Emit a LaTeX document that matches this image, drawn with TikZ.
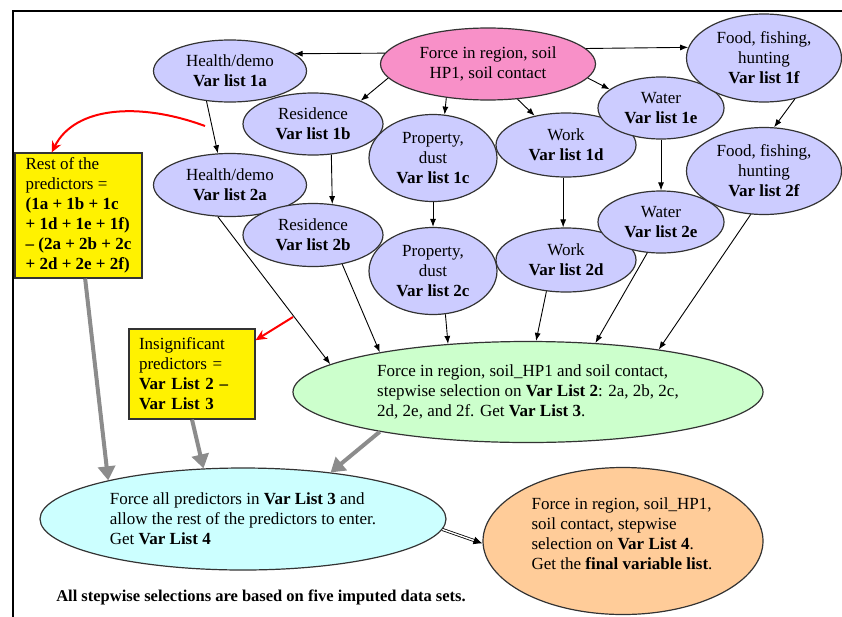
\documentclass[tikz,border=0pt]{standalone}
\usepackage{fontspec}
\setmainfont{Liberation Serif}
\usepackage{xcolor}
\usepackage{tikz}
\usetikzlibrary{arrows.meta, positioning, shapes.geometric, calc}
\definecolor{varblue}{HTML}{CCCCFF}
\definecolor{forcepink}{HTML}{F890C8}
\definecolor{selgreen}{HTML}{CCFFCC}
\definecolor{selcyan}{HTML}{CCFFFF}
\definecolor{finalorange}{HTML}{FFCC99}
\definecolor{flowgray}{HTML}{8C8C8C}

\begin{document}
\begin{tikzpicture}[
          x=1pt, y=-1pt,
          every node/.style={font=\fontsize{17}{20}\selectfont},
          ell/.style={ellipse, draw=black!80, line width=1.2pt, inner sep=0pt, align=center},
          varnode/.style={ell, fill=varblue, minimum width=#1},
          varnode/.default=140pt,
          notebox/.style={rectangle, draw=black!80, line width=1.2pt, fill=yellow, align=left, inner xsep=9pt},
          blk/.style={-{Latex[length=8pt,width=6pt]}, line width=0.9pt},
          fat/.style={-{Triangle[length=14pt,width=17pt]}, line width=4pt, flowgray},
          redarr/.style={-{Stealth[length=11pt,width=10pt]}, line width=2pt, red}
        ]
          \useasboundingbox (0,0) rectangle (842,616);
          \clip (0,0) rectangle (842,616);
          \draw[line width=2pt] (13,11) rectangle (900,700);

          \node[ell, fill=forcepink, minimum width=215pt, minimum height=72pt] (force) at (488,64)
            {Force in region, soil\\HP1, soil contact};

          \node[varnode=153pt, minimum height=62pt] (health1) at (230,71) {Health/demo\\\textbf{Var list 1a}};
          \node[varnode, minimum height=62pt] (res1) at (313,124) {Residence\\\textbf{Var list 1b}};
          \node[varnode=128pt, minimum height=87pt] (prop1) at (433,158) {Property,\\dust\\\textbf{Var list 1c}};
          \node[varnode, minimum height=64pt] (work1) at (566,145) {Work\\\textbf{Var list 1d}};
          \node[varnode=126pt, minimum height=62pt] (water1) at (661,108) {Water\\\textbf{Var list 1e}};
          \node[varnode=155pt, minimum height=88pt] (food1) at (764,58) {Food, fishing,\\hunting\\\textbf{Var list 1f}};

          \node[varnode=153pt, minimum height=63pt] (health2) at (230,185) {Health/demo\\\textbf{Var list 2a}};
          \node[varnode, minimum height=63pt] (res2) at (313,235) {Residence\\\textbf{Var list 2b}};
          \node[varnode=128pt, minimum height=87pt] (prop2) at (433,271) {Property,\\dust\\\textbf{Var list 2c}};
          \node[varnode, minimum height=64pt] (work2) at (566,260) {Work\\\textbf{Var list 2d}};
          \node[varnode=126pt, minimum height=62pt] (water2) at (661,222) {Water\\\textbf{Var list 2e}};
          \node[varnode=155pt, minimum height=87pt] (food2) at (764,171) {Food, fishing,\\hunting\\\textbf{Var list 2f}};

          \node[notebox, minimum width=127pt, minimum height=125pt, inner xsep=4pt] (rest) at (78.5,215.5)
            {Rest of the\\predictors =\\\textbf{(1a + 1b + 1c}\\\textbf{+ 1d + 1e + 1f)}\\\textbf{-- (2a + 2b + 2c}\\\textbf{+ 2d + 2e + 2f)}};
          \node[notebox, minimum width=126pt, minimum height=90pt, text width=106pt, inner xsep=10pt] (insig) at (192,374)
            {Insignificant\\predictors =\\\textbf{Var List 2 --}\\\textbf{Var List 3}};

          \node[ell, fill=selgreen, minimum width=470pt, minimum height=101pt, align=left] (sel3) at (528,392)
            {Force in region, soil\_HP1 and soil contact,\\
             stepwise selection on \textbf{Var List 2}: 2a, 2b, 2c,\\
             2d, 2e, and 2f. Get \textbf{Var List 3}.};
          \node[ell, fill=selcyan, minimum width=406pt, minimum height=102pt, align=left] (sel4) at (243,519)
            {Force all predictors in \textbf{Var List 3} and\\
             allow the rest of the predictors to enter.\\
             Get \textbf{Var List 4}};
          \node[ell, fill=finalorange, minimum width=280pt, minimum height=147pt] (final) at (623,541) {};
          \node[align=left] (finaltext) at (622,534)
            {Force in region, soil\_HP1,\\
             soil contact, stepwise\\
             selection on \textbf{Var List 4}.\\
             Get the \textbf{final variable list}.};

          \node[font=\fontsize{16.5}{19}\selectfont\bfseries] (note) at (261,597)
            {All stepwise selections are based on five imputed data sets.};

          \draw[blk] (force.174) -- (health1.15);
          \draw[blk] (force.188) -- (res1.26);
          \draw[blk] (force.219) -- (prop1.75);
          \draw[blk] (force.310) -- (work1.137);
          \draw[blk] (force.352) -- (water1.160);
          \draw[blk] (force.9) -- (food1.172);

          \draw[blk] (health1.232) -- (health2.111);
          \draw[blk] (res1.301) -- (res2.58);
          \draw[blk] (prop1.south) -- (prop2.north);
          \draw[blk] (work1.265) -- (work2.95);
          \draw[blk] (water1.south) -- (water2.north);
          \draw[blk] (food1.307) -- (food2.77);

          \draw[blk] (health2.249) -- (sel3.172);
          \draw[blk] (res2.315) -- (sel3.165);
          \draw[blk] (prop2.286) -- (sel3.149);
          \draw[blk] (work2.238) -- (sel3.81);
          \draw[blk] (water2.246) -- (sel3.36);
          \draw[blk] (food2.253) -- (sel3.18);

          \coordinate (redstart) at (205,126);
          \coordinate (redstart2) at (293,317);
          \draw[redarr] (redstart) .. controls (140,102) and (75,106) .. (rest.113);
          \draw[redarr] (redstart2) -- (insig.28);

          \draw[fat] (rest.276) -- (sel4.164);
          \draw[fat] (insig.south) -- (sel4.128);
          \draw[fat] (sel3.195) -- (sel4.28);

          \draw[double, double distance=1.4pt, line width=0.8pt, -{Latex[length=9pt,width=8pt]}] (sel4.357) -- (final.181);
        \end{tikzpicture}
\end{document}
